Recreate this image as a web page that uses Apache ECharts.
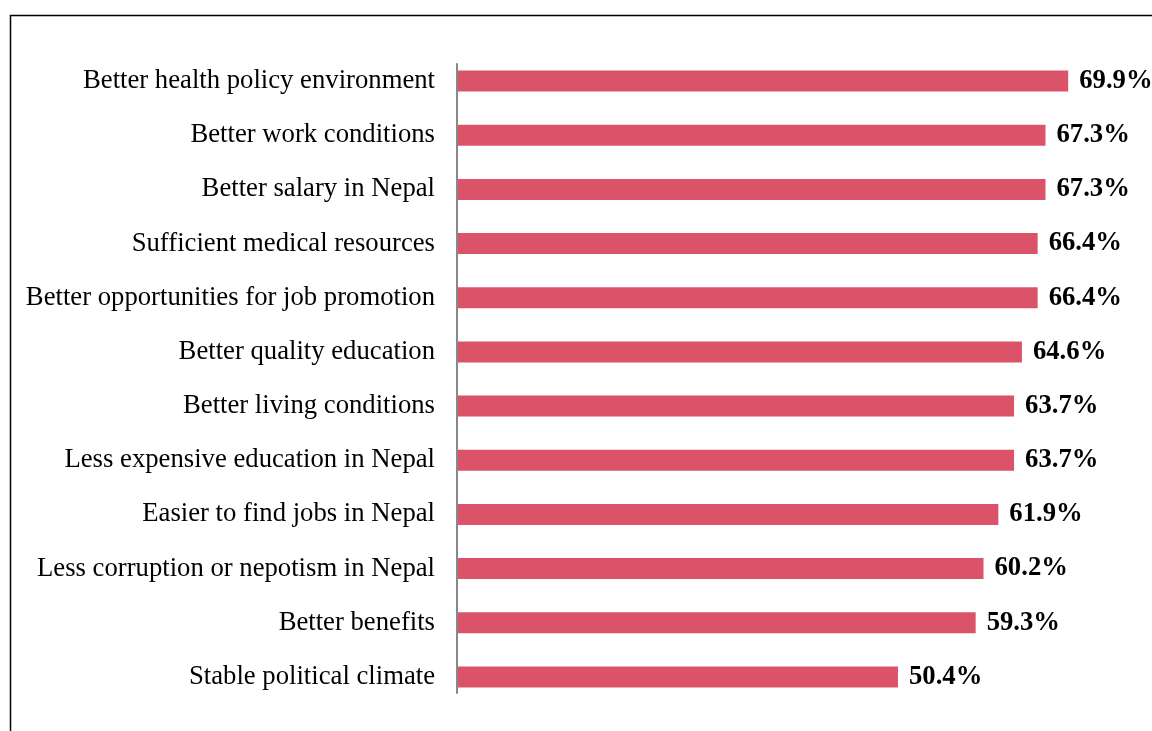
<!DOCTYPE html>
<html>
<head>
<meta charset="utf-8">
<script src="https://cdn.jsdelivr.net/npm/echarts@6/dist/echarts.min.js"></script>
<style>
html,body{margin:0;padding:0;background:#fff;}
#chart{width:1152px;height:731px;}
</style>
</head>
<body>
<div id="chart"></div>
<script>
const categories = [
  "Better health policy environment",
  "Better work conditions",
  "Better salary in Nepal",
  "Sufficient medical resources",
  "Better opportunities for job promotion",
  "Better quality education",
  "Better living conditions",
  "Less expensive education in Nepal",
  "Easier to find jobs in Nepal",
  "Less corruption or nepotism in Nepal",
  "Better benefits",
  "Stable political climate"
];
const values = [69.9, 67.3, 67.3, 66.4, 66.4, 64.6, 63.7, 63.7, 61.9, 60.2, 59.3, 50.4];

const serif = '"Liberation Serif", "Times New Roman", serif';
const chart = echarts.init(document.getElementById('chart'));
chart.setOption({
  animation: false,
  backgroundColor: '#fff',
  graphic: [{
    type: 'rect',
    shape: {x: 10.5, y: 15.5, width: 1300, height: 900},
    style: {fill: 'none', stroke: '#000', lineWidth: 1.5},
    silent: true
  }],
  grid: [
    {left: 458, top: 54, right: 0, height: 650, outerBoundsMode: 'none'},
    {left: 457, top: 64, width: 10, height: 629, outerBoundsMode: 'none'}
  ],
  xAxis: [
    {type: 'value', min: 0, max: 79.5, show: false, gridIndex: 0},
    {type: 'value', min: 0, max: 1, show: false, gridIndex: 1}
  ],
  yAxis: [
    {
      type: 'category',
      gridIndex: 0,
      data: categories,
      inverse: true,
      axisLine: {show: false},
      axisTick: {show: false},
      axisLabel: {
        margin: 23,
        color: '#000',
        fontFamily: serif,
        fontSize: 26.7
      }
    },
    {
      type: 'category',
      gridIndex: 1,
      data: categories,
      inverse: true,
      axisLine: {show: true, lineStyle: {color: '#888', width: 2}},
      axisTick: {show: false},
      axisLabel: {show: false}
    }
  ],
  series: [{
    type: 'bar',
    xAxisIndex: 0,
    yAxisIndex: 0,
    data: values,
    barWidth: 21,
    itemStyle: {color: '#DA5369'},
    label: {
      show: true,
      position: 'right',
      distance: 11,
      formatter: p => p.value.toFixed(1) + '%',
      color: '#000',
      fontWeight: 'bold',
      fontFamily: serif,
      fontSize: 26.7
    }
  }]
});
</script>
</body>
</html>
